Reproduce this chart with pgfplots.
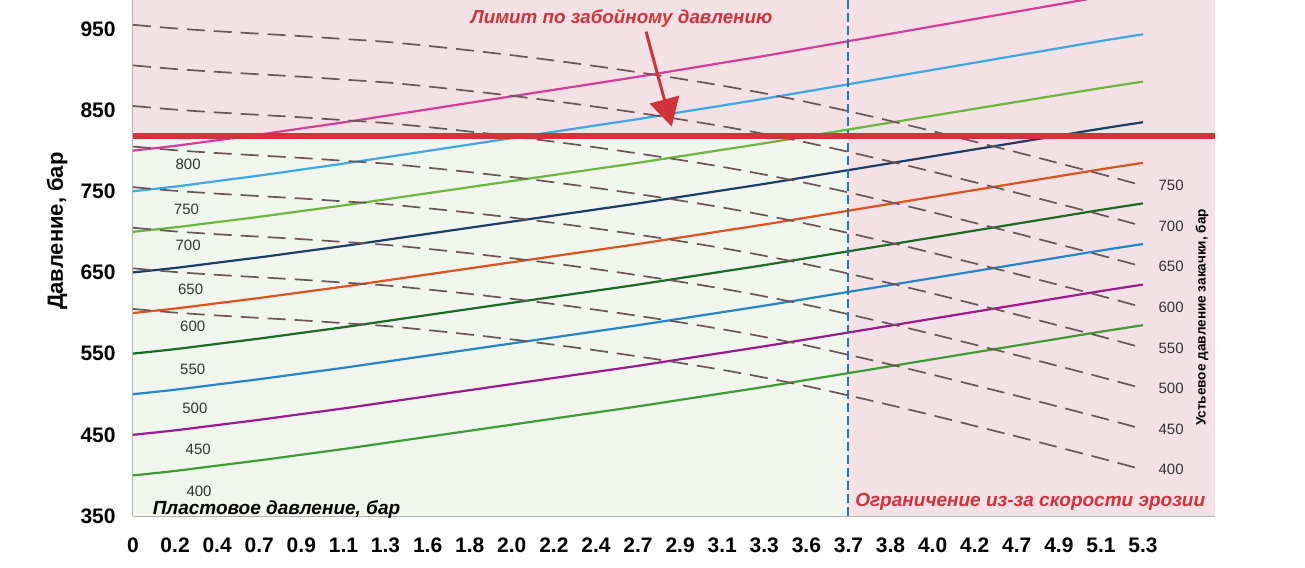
\documentclass[border=0pt]{standalone}
\usepackage{pgfplots}
\pgfplotsset{compat=1.18}
\usepackage{pgfplotstable}
\usepackage{fontspec}
\setmainfont{Liberation Sans}
\usetikzlibrary{arrows.meta}
\definecolor{bgpink}{HTML}{F4E1E6}
\definecolor{bggreen}{HTML}{F0F5EE}
\definecolor{cpink}{HTML}{D83E97}
\definecolor{clblue}{HTML}{3AA8EA}
\definecolor{clgreen}{HTML}{6DB63C}
\definecolor{cnavy}{HTML}{1C3D66}
\definecolor{corange}{HTML}{E2501C}
\definecolor{cdgreen}{HTML}{1B6B26}
\definecolor{cblue}{HTML}{2386C8}
\definecolor{cpurple}{HTML}{9C1A8E}
\definecolor{cgreen}{HTML}{3E9C35}
\definecolor{cdash}{HTML}{6A5656}
\definecolor{cvline}{HTML}{2A74A0}
\definecolor{cred}{HTML}{D2323A}
\definecolor{clabel}{HTML}{333333}
\tikzset{
  lbl/.style={font=\fontsize{7.5}{9}\selectfont, text=clabel},
  rlbl/.style={font=\fontsize{7.5}{9}\selectfont, text=clabel, anchor=west, inner sep=0pt},
}

\pgfplotstableread{
i s400 s450 s500 s550 s600 s650 s700 s750 s800
0 400 450 500 550 600 650 700 750 800
1 405.5 455.5 505.5 555.5 605.5 655.5 705.5 755.7 805.9
2 412 462 512 562 612 662 712 762.5 812.8
3 418.5 468.5 518.5 568.5 618.5 668.5 718.5 769.3 819.8
4 425.5 475.5 525.5 575.5 625.5 675.5 725.5 776.6 827.3
5 432.5 482.5 532.5 582.5 632.5 682.5 732.5 784 834.8
6 440 490 540 590 640 690 740 791.8 842.8
7 447.5 497.5 547.5 597.5 647.5 697.5 747.5 799.6 850.8
8 455 505 555 605 655 705 755 807.5 858.9
9 462.5 512.5 562.5 612.5 662.5 712.5 762.5 815.3 866.9
10 470 520 570 620 670 720 770 823.2 874.9
11 477.5 527.5 577.5 627.5 677.5 727.5 777.5 831 882.9
12 485 535 585 635 685 735 785 838.8 891
13 493 543 593 643 693 743 793 847.2 899.5
14 501 551 601 651 701 751 801 855.5 908.1
15 509 559 609 659 709 759 809 863.9 916.6
16 517.5 567.5 617.5 667.5 717.5 767.5 817.5 872.8 925.7
17 526 576 626 676 726 776 826 881.7 934.8
18 534.5 584.5 634.5 684.5 734.5 784.5 834.5 890.6 943.9
19 543 593 643 693 743 793 843 899.4 953
20 551.5 601.5 651.5 701.5 751.5 801.5 851.5 908.3 962.1
21 560 610 660 710 760 810 860 917.2 971.2
22 568.5 618.5 668.5 718.5 768.5 818.5 868.5 926.1 980.3
23 577 627 677 727 777 827 877 935 989.4
24 585 635 685 735 785 835 885 943.3 998
}\solid

\pgfplotstableread{
i w400 w450 w500 w550 w600 w650 w700 w750
0 605 655 705 755 805 855 905 955
1 600.5 650.5 700.5 750.5 800.5 850.5 900.5 950.5
2 597 647 697 747 797 847 897 947
3 594 644 694 744 794 844 894 944
4 591 641 691 741 791 841 891 941
5 587.5 637.5 687.5 737.5 787.5 837.5 887.5 937.5
6 584 634 684 734 784 834 884 934
7 579 629 679 729 779 829 879 929
8 573.5 623.5 673.5 723.5 773.5 823.5 873.5 923.5
9 567.5 617.5 667.5 717.5 767.5 817.5 867.5 917.5
10 561 611 661 711 761 811 861 911
11 554 604 654 704 754 804 854 904
12 546.5 596.5 646.5 696.5 746.5 796.5 846.5 896.5
13 538.5 588.5 638.5 688.5 738.5 788.5 838.5 888.5
14 530 580 630 680 730 780 830 880
15 520.5 570.5 620.5 670.5 720.5 770.5 820.5 870.5
16 510 560 610 660 710 760 810 860
17 498.5 548.5 598.5 648.5 698.5 748.5 798.5 848.5
18 486.5 536.5 586.5 636.5 686.5 736.5 786.5 836.5
19 474 524 574 624 674 724 774 824
20 461 511 561 611 661 711 761 811
21 448 498 548 598 648 698 748 798
22 434.5 484.5 534.5 584.5 634.5 684.5 734.5 784.5
23 421 471 521 571 621 671 721 771
24 407 457 507 557 607 657 707 757
}\dashed

\begin{document}
\begin{tikzpicture}
\useasboundingbox (-66.5pt,-25.5pt) rectangle (586pt,258pt);
\begin{axis}[
  at={(0,0)}, anchor=south west,
  scale only axis, width=541pt, height=258pt,
  xmin=0, xmax=25.71, ymin=350, ymax=985.5,
  axis lines*=left,
  axis line style={draw=gray!60, line width=0.6pt},
  xtick={0,1,...,24},
  xticklabels={0,0.2,0.4,0.7,0.9,1.1,1.3,1.6,1.8,2.0,2.2,2.4,2.7,2.9,3.1,3.3,3.6,3.7,3.8,4.0,4.2,4.7,4.9,5.1,5.3},
  ytick={350,450,550,650,750,850,950},
  major tick length=0pt,
  /pgf/number format/assume math mode=true,
  ticklabel style={font=\bfseries\fontsize{10.5}{12}\selectfont},
  xticklabel style={anchor=base, inner sep=0pt, yshift=-18pt},
  yticklabel style={anchor=east, inner sep=0pt, xshift=-8.5pt},
  clip mode=individual,
]
% backgrounds
\fill[bgpink] (axis cs:0,350) rectangle (axis cs:25.71,985.5);
\fill[bggreen] (axis cs:0,350) rectangle (axis cs:17,818);

% solid lines
\addplot[cgreen, line width=1.1pt, smooth] table[x=i,y=s400] {\solid};
\addplot[cpurple, line width=1.1pt, smooth] table[x=i,y=s450] {\solid};
\addplot[cblue, line width=1.1pt, smooth] table[x=i,y=s500] {\solid};
\addplot[cdgreen, line width=1.1pt, smooth] table[x=i,y=s550] {\solid};
\addplot[corange, line width=1.1pt, smooth] table[x=i,y=s600] {\solid};
\addplot[cnavy, line width=1.1pt, smooth] table[x=i,y=s650] {\solid};
\addplot[clgreen, line width=1.1pt, smooth] table[x=i,y=s700] {\solid};
\addplot[clblue, line width=1.1pt, smooth] table[x=i,y=s750] {\solid};
\addplot[cpink, line width=1.1pt, smooth] table[x=i,y=s800] {\solid};

% dashed lines
\addplot[cdash, line width=0.85pt, dash pattern=on 9pt off 4.5pt, smooth] table[x=i,y=w400] {\dashed};
\addplot[cdash, line width=0.85pt, dash pattern=on 9pt off 4.5pt, smooth] table[x=i,y=w450] {\dashed};
\addplot[cdash, line width=0.85pt, dash pattern=on 9pt off 4.5pt, smooth] table[x=i,y=w500] {\dashed};
\addplot[cdash, line width=0.85pt, dash pattern=on 9pt off 4.5pt, smooth] table[x=i,y=w550] {\dashed};
\addplot[cdash, line width=0.85pt, dash pattern=on 9pt off 4.5pt, smooth] table[x=i,y=w600] {\dashed};
\addplot[cdash, line width=0.85pt, dash pattern=on 9pt off 4.5pt, smooth] table[x=i,y=w650] {\dashed};
\addplot[cdash, line width=0.85pt, dash pattern=on 9pt off 4.5pt, smooth] table[x=i,y=w700] {\dashed};
\addplot[cdash, line width=0.85pt, dash pattern=on 9pt off 4.5pt, smooth] table[x=i,y=w750] {\dashed};

% vertical limit
\addplot[cvline, line width=1pt, dash pattern=on 4.5pt off 2pt] coordinates {(17,350) (17,985.5)};
% bottomhole limit
\addplot[cred, line width=2.6pt] coordinates {(0,818) (25.71,818)};

% arrow
\draw[cred, line width=1.5pt, -{Triangle[length=14pt, width=15pt]}] (axis cs:12.19,946.6) -- (axis cs:12.80,829.6);

% texts
\node[font=\bfseries\itshape\fontsize{9.4}{11}\selectfont, text=cred] at (axis cs:11.61,963.4) {Лимит по забойному давлению};
\node[font=\bfseries\itshape\fontsize{9.5}{11}\selectfont, text=cred] at (axis cs:21.32,367.6) {Ограничение из-за скорости эрозии};
\node[font=\bfseries\itshape\fontsize{9.5}{11}\selectfont, text=black] at (axis cs:3.41,358.3) {Пластовое давление, бар};

\node[lbl] at (axis cs:1.31,783.3) {800};
\node[lbl] at (axis cs:1.27,728) {750};
\node[lbl] at (axis cs:1.31,683.9) {700};
\node[lbl] at (axis cs:1.37,629.3) {650};
\node[lbl] at (axis cs:1.42,583) {600};
\node[lbl] at (axis cs:1.42,530.7) {550};
\node[lbl] at (axis cs:1.47,482.6) {500};
\node[lbl] at (axis cs:1.55,432) {450};
\node[lbl] at (axis cs:1.57,380) {400};

\node[rlbl] at (axis cs:24.36,757) {750};
\node[rlbl] at (axis cs:24.36,707) {700};
\node[rlbl] at (axis cs:24.36,657) {650};
\node[rlbl] at (axis cs:24.36,607) {600};
\node[rlbl] at (axis cs:24.36,557) {550};
\node[rlbl] at (axis cs:24.36,507) {500};
\node[rlbl] at (axis cs:24.36,457) {450};
\node[rlbl] at (axis cs:24.36,407) {400};

\node[rotate=90, font=\bfseries\fontsize{6.8}{8}\selectfont] at (axis cs:25.4,594.5) {Устьевое давление закачки, бар};
\node[rotate=90, font=\bfseries\fontsize{11}{13}\selectfont] at (rel axis cs:-0.0702,0.552) {Давление, бар};
\end{axis}
\end{tikzpicture}
\end{document}
